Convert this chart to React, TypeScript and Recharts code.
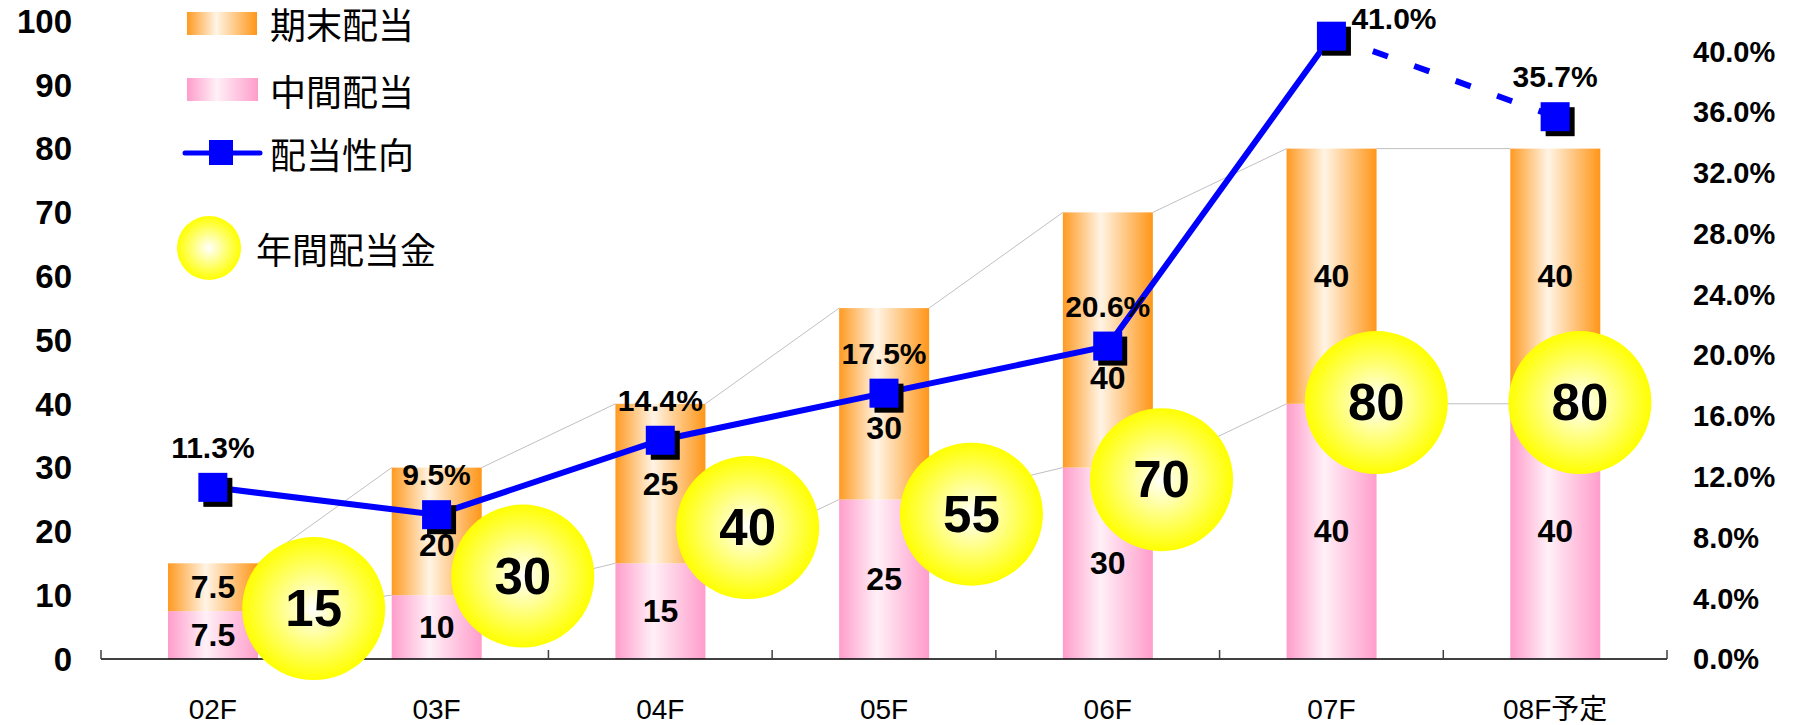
import React from 'react';
import { ComposedChart, Bar, Line, XAxis, YAxis, LabelList, Legend } from 'recharts';

const years = ['02F', '03F', '04F', '05F', '06F', '07F', '08F予定'];
const interimDividend = [7.5, 10, 15, 25, 30, 40, 40];
const yearEndDividend = [7.5, 20, 25, 30, 40, 40, 40];
const annualDividend = [15, 30, 40, 55, 70, 80, 80];
const payoutRatio = [11.3, 9.5, 14.4, 17.5, 20.6, 41.0, null];
const payoutForecast = [null, null, null, null, null, 41.0, 35.7];
const leftTicks = [0, 10, 20, 30, 40, 50, 60, 70, 80, 90, 100];
const rightTicks = [0, 4, 8, 12, 16, 20, 24, 28, 32, 36, 40];
const legendNames = ['期末配当', '中間配当', '配当性向', '年間配当金'];

// where the yellow bubbles were placed in the original: height in dividend units,
// sideways shift in fractions of a category
const bubbleLevel = [7.9, 13, 20.6, 22.7, 28.1, 40.2, 40.2];
const bubbleShift = [0.45, 0.385, 0.39, 0.39, 0.24, 0.2, 0.11];
// the year-end labels that were pushed down under the line markers
const yearEndLabelNudge = [0, 14, 0, 24, 38, 0, 0];

const rows = years.map((year, i) => ({
  year,
  interim: interimDividend[i],
  yearEnd: yearEndDividend[i],
  annual: annualDividend[i],
  payout: payoutRatio[i],
  forecast: payoutForecast[i],
}));

const W = 1800;
const H = 725;
const LEFT_W = 101;
const RIGHT_W = 133;
const STEP = (W - LEFT_W - RIGHT_W) / years.length;
const NUM_FONT = "'Liberation Sans', Arial, sans-serif";
const JP_FONT = "'Noto Sans CJK JP', sans-serif";
const BLUE = '#0000FF';

const box = (p: any) => (p.viewBox && p.viewBox.height != null ? p.viewBox : p);

const InterimBar = (p: any) => {
  const { x, y, width, height, index } = p;
  const ppu = height / interimDividend[index];
  const base = y + height;
  const next = interimDividend[index + 1];
  return (
    <g>
      <rect x={x} y={y} width={width} height={height} fill="url(#gradInterim)" />
      {next != null && (
        <line x1={x + width} y1={y} x2={x + STEP} y2={base - next * ppu} stroke="#c0c0c0" strokeWidth={1} />
      )}
    </g>
  );
};

const YearEndBar = (p: any) => {
  const { x, y, width, height, index } = p;
  const ppu = height / yearEndDividend[index];
  const base = y + height + interimDividend[index] * ppu;
  const next = annualDividend[index + 1];
  return (
    <g>
      <rect x={x} y={y} width={width} height={height} fill="url(#gradYearEnd)" />
      {next != null && (
        <line x1={x + width} y1={y} x2={x + STEP} y2={base - next * ppu} stroke="#c0c0c0" strokeWidth={1} />
      )}
    </g>
  );
};

const segmentLabel = (nudge?: number[]) => (p: any) => {
  const { x, y, width, height } = box(p);
  const i = p.index;
  return (
    <text
      x={x + width / 2}
      y={y + height / 2 + (nudge ? nudge[i] : 0)}
      textAnchor="middle"
      dominantBaseline="central"
      fontSize={32}
      fontWeight="bold"
      fontFamily={NUM_FONT}
      fill="#000"
    >
      {p.value}
    </text>
  );
};

const BubbleLabel = (p: any) => {
  const { x, y, width, height } = box(p);
  const i = p.index;
  const ppu = height / yearEndDividend[i];
  const base = y + height + interimDividend[i] * ppu;
  const cx = x + width / 2 + bubbleShift[i] * STEP;
  const cy = base - bubbleLevel[i] * ppu;
  return (
    <g>
      <circle cx={cx} cy={cy} r={71.5} fill="url(#gradBubble)" />
      <text x={cx} y={cy} textAnchor="middle" dominantBaseline="central" fontSize={51} fontWeight="bold" fontFamily={NUM_FONT} fill="#000">
        {p.value}
      </text>
    </g>
  );
};

const SquareDot = (p: any) => {
  const { cx, cy, index } = p;
  if (cx == null || cy == null) return <g key={`d${index}`} />;
  return (
    <g key={`d${index}`}>
      <rect x={cx - 14.5 + 5} y={cy - 14.5 + 5} width={29} height={29} fill="#000" />
      <rect x={cx - 14.5} y={cy - 14.5} width={29} height={29} fill={BLUE} />
    </g>
  );
};

const ForecastDot = (p: any) => (p.index === years.length - 1 ? SquareDot(p) : <g key={`f${p.index}`} />);

const percentLabel = (only?: number) => (p: any) => {
  const { x, y, value, index } = p;
  if (value == null || x == null) return null;
  if (only != null && index !== only) return null;
  const beside = index === 5;
  return (
    <text
      x={beside ? x + 20 : x}
      y={beside ? y - 18 : y - 40}
      textAnchor={beside ? 'start' : 'middle'}
      dominantBaseline="central"
      fontSize={30}
      fontWeight="bold"
      fontFamily={NUM_FONT}
      fill="#000"
    >
      {value.toFixed(1)}%
    </text>
  );
};

const YearTick = (p: any) => {
  const { x, y, payload, index } = p;
  const axisY = y - 40;
  return (
    <g>
      <line x1={x - STEP / 2} x2={x - STEP / 2} y1={axisY} y2={axisY - 9} stroke="#404040" strokeWidth={1.5} />
      {index === years.length - 1 && (
        <line x1={x + STEP / 2} x2={x + STEP / 2} y1={axisY} y2={axisY - 9} stroke="#404040" strokeWidth={1.5} />
      )}
      <text x={x} y={y} dy="0.71em" textAnchor="middle" fontSize={28} fontFamily={`'Liberation Sans', Arial, ${JP_FONT}`} fill="#000">
        {payload.value}
      </text>
    </g>
  );
};

const LegendBox = () => {
  const txt = { fontSize: 36, fontFamily: JP_FONT, fill: '#000', dominantBaseline: 'central' as const };
  return (
    <svg width={460} height={290} style={{ display: 'block' }}>
      <rect x={187} y={12} width={70} height={23} fill="url(#gradYearEnd)" />
      <text x={270} y={23} {...txt}>{legendNames[0]}</text>
      <rect x={187} y={78} width={71} height={23} fill="url(#gradInterim)" />
      <text x={270} y={90} {...txt}>{legendNames[1]}</text>
      <line x1={185} x2={260} y1={153} y2={153} stroke={BLUE} strokeWidth={5} strokeLinecap="round" />
      <rect x={209} y={140} width={24} height={25} fill={BLUE} />
      <text x={270} y={153} {...txt}>{legendNames[2]}</text>
      <circle cx={209} cy={248} r={32} fill="url(#gradBubble)" />
      <text x={256} y={248} {...txt}>{legendNames[3]}</text>
    </svg>
  );
};

export default function App() {
  return (
    <div style={{ position: 'absolute', left: 0, top: 0, width: W, height: H, background: '#fff' }}>
      <ComposedChart width={W} height={H} data={rows} margin={{ top: 21, right: 0, bottom: 0, left: 0 }}>
        <defs>
          <linearGradient id="gradYearEnd" x1="0" y1="0" x2="1" y2="0">
            <stop offset="0%" stopColor="#ff9a22" />
            <stop offset="42%" stopColor="#fff4e5" />
            <stop offset="100%" stopColor="#ff9618" />
          </linearGradient>
          <linearGradient id="gradInterim" x1="0" y1="0" x2="1" y2="0">
            <stop offset="0%" stopColor="#ff9dcb" />
            <stop offset="42%" stopColor="#fff0f7" />
            <stop offset="100%" stopColor="#ff9dcb" />
          </linearGradient>
          <radialGradient id="gradBubble" cx="50%" cy="50%" r="50%">
            <stop offset="0%" stopColor="#ffffff" />
            <stop offset="55%" stopColor="#ffff70" />
            <stop offset="100%" stopColor="#ffff00" />
          </radialGradient>
        </defs>
        <XAxis
          dataKey="year"
          height={66}
          axisLine={{ stroke: '#000', strokeWidth: 1.5 }}
          tickLine={false}
          tickSize={0}
          tickMargin={40}
          interval={0}
          tick={<YearTick />}
        />
        <YAxis
          yAxisId="left"
          width={LEFT_W}
          domain={[0, 100]}
          ticks={leftTicks}
          axisLine={false}
          tickLine={false}
          tickSize={0}
          tickMargin={29}
          tick={{ fontSize: 33, fontWeight: 'bold', fill: '#000', fontFamily: NUM_FONT }}
        />
        <YAxis
          yAxisId="right"
          orientation="right"
          width={RIGHT_W}
          domain={[0, 42]}
          ticks={rightTicks}
          axisLine={false}
          tickLine={false}
          tickSize={0}
          tickMargin={26}
          tickFormatter={(v: number) => `${v.toFixed(1)}%`}
          tick={{ fontSize: 29, fontWeight: 'bold', fill: '#000', fontFamily: NUM_FONT, textAnchor: 'start' }}
        />
        <Legend
          layout="horizontal"
          verticalAlign="middle"
          align="center"
          wrapperStyle={{ position: 'absolute', left: 0, top: 0, width: 460, height: 290 }}
          content={() => <LegendBox />}
        />
        <Bar yAxisId="left" dataKey="interim" stackId="div" barSize={90} shape={<InterimBar />} isAnimationActive={false}>
          <LabelList dataKey="interim" content={segmentLabel()} />
        </Bar>
        <Bar yAxisId="left" dataKey="yearEnd" stackId="div" barSize={90} shape={<YearEndBar />} isAnimationActive={false}>
          <LabelList dataKey="yearEnd" content={segmentLabel(yearEndLabelNudge)} />
          <LabelList dataKey="annual" content={BubbleLabel} />
        </Bar>
        <Line
          yAxisId="right"
          dataKey="forecast"
          stroke={BLUE}
          strokeWidth={6}
          strokeDasharray="16 28"
          dot={ForecastDot}
          activeDot={false}
          isAnimationActive={false}
        >
          <LabelList dataKey="forecast" content={percentLabel(years.length - 1)} />
        </Line>
        <Line
          yAxisId="right"
          dataKey="payout"
          stroke={BLUE}
          strokeWidth={6}
          dot={SquareDot}
          activeDot={false}
          isAnimationActive={false}
        >
          <LabelList dataKey="payout" content={percentLabel()} />
        </Line>
      </ComposedChart>
    </div>
  );
}
